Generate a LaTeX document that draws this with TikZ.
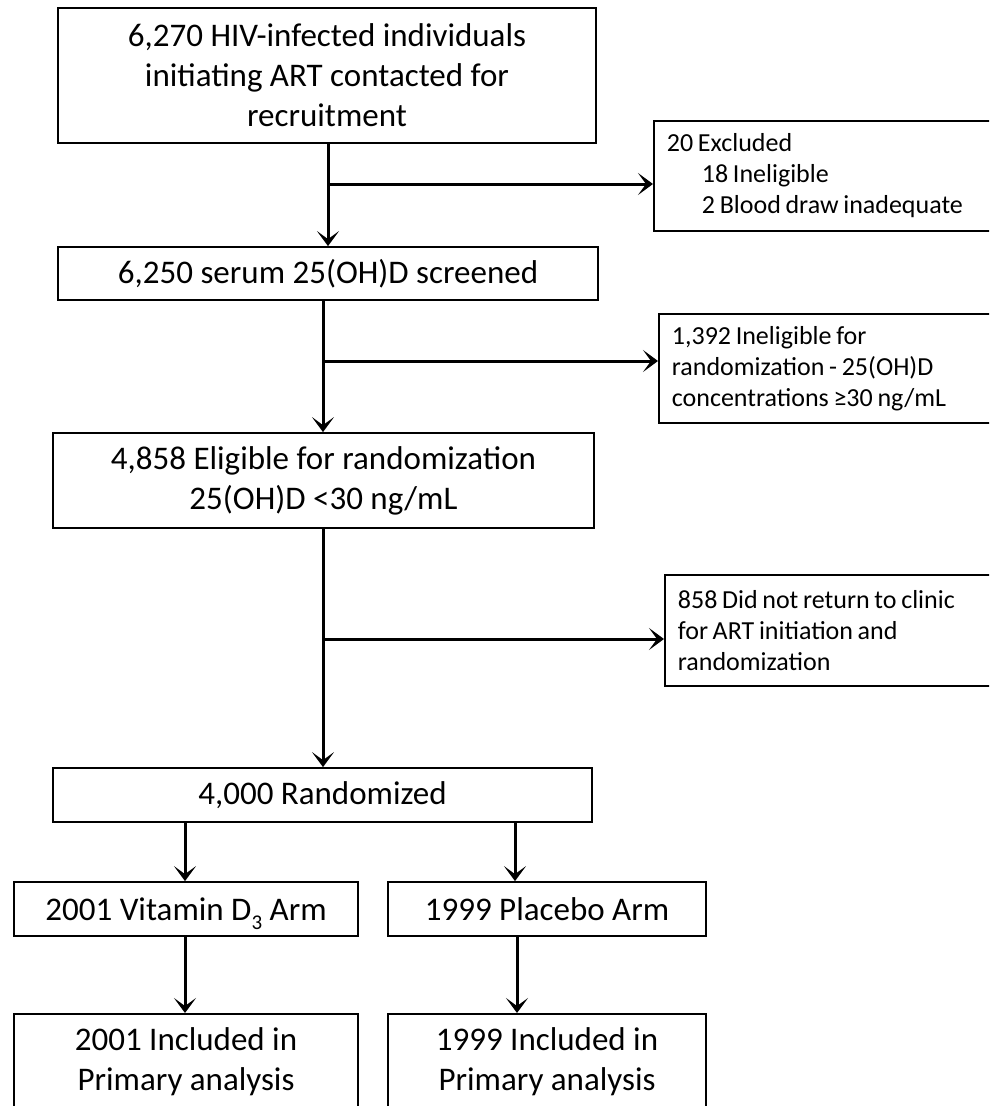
\documentclass[tikz,border=0pt]{standalone}
\usepackage{fontspec}
\setmainfont{Carlito}
\usetikzlibrary{arrows.meta}
\newcommand\tightsp{\spaceskip=0.18em plus 0.05em\relax}
\begin{document}
\begin{tikzpicture}[x=1pt,y=-1pt,
  mainbox/.style={draw=black, line width=1.8pt, inner sep=0pt, align=center,
    font=\fontsize{33}{40}\selectfont},
  sidebox/.style={draw=black, line width=1.8pt, anchor=north west, inner xsep=13pt,
    inner ysep=0pt, text width=340pt, align=left,
    font=\fontsize{26}{31}\selectfont},
  arr/.style={line width=3pt, -{Stealth[length=15pt,width=22pt,inset=8pt]}}]
\useasboundingbox (0,0) rectangle (989,1106);
\clip (0,0) rectangle (989,1106);
\fill[white] (0,0) rectangle (989,1106);
% main column
\node[mainbox, minimum width=538pt, minimum height=135pt] (b1) at (327,75.5)
  {6,270 HIV-infected individuals\\initiating ART contacted for\\recruitment};
\node[mainbox, minimum width=540pt, minimum height=53pt] (b2) at (328,273.5)
  {6,250 serum 25(OH)D screened};
\node[mainbox, minimum width=541pt, minimum height=95pt] (b3) at (323.5,480.5)
  {4,858 Eligible for randomization\\25(OH)D <30 ng/mL};
\node[mainbox, minimum width=539pt, minimum height=54pt] (rand) at (322.5,795)
  {4,000 Randomized};
\node[mainbox, minimum width=344pt, minimum height=54pt] (vit) at (186,909)
  {2001 Vitamin D\smash{\raisebox{-0.28em}{\fontsize{21}{21}\selectfont 3}} Arm};
\node[mainbox, minimum width=318pt, minimum height=54pt] (pla) at (547,909)
  {1999 Placebo Arm};
\node[mainbox, anchor=north, minimum width=344pt, minimum height=96pt] (inc1) at (186,1013)
  {2001 Included in\\Primary analysis};
\node[mainbox, anchor=north, minimum width=318pt, minimum height=96pt] (inc2) at (547,1013)
  {1999 Included in\\Primary analysis};
% side boxes
\node[sidebox, minimum height=110pt] (ex1) at (653,120)
  {\tightsp 20 Excluded\\\hspace*{35pt}18 Ineligible\\\hspace*{35pt}2 Blood draw inadequate};
\node[sidebox, minimum height=109pt] (ex2) at (658,313)
  {\tightsp 1,392 Ineligible for\\randomization - 25(OH)D\\concentrations ≥30 ng/mL};
\node[sidebox, minimum height=111pt] (ex3) at (664,574)
  {\tightsp 858 Did not return to clinic\\for ART initiation and\\randomization};
% junction points
\coordinate (j1) at (328,184);
\coordinate (j2) at (323,361);
\coordinate (j3) at (323,639);
\coordinate (ra) at (185,822);
\coordinate (rb) at (515,822);
\coordinate (pc) at (517,936);
% connectors
\draw[arr] (b1.south -| j1) -- (b2.north -| j1);
\draw[arr] (j1) -- (j1 -| ex1.west);
\draw[arr] (b2.south -| j2) -- (b3.north -| j2);
\draw[arr] (j2) -- (j2 -| ex2.west);
\draw[arr] (b3.south -| j3) -- (rand.north -| j3);
\draw[arr] (j3) -- (j3 -| ex3.west);
\draw[arr] (ra) -- (vit.north -| ra);
\draw[arr] (rb) -- (pla.north -| rb);
\draw[arr] (vit.south -| ra) -- (inc1.north -| ra);
\draw[arr] (pc) -- (inc2.north -| pc);
\end{tikzpicture}
\end{document}
